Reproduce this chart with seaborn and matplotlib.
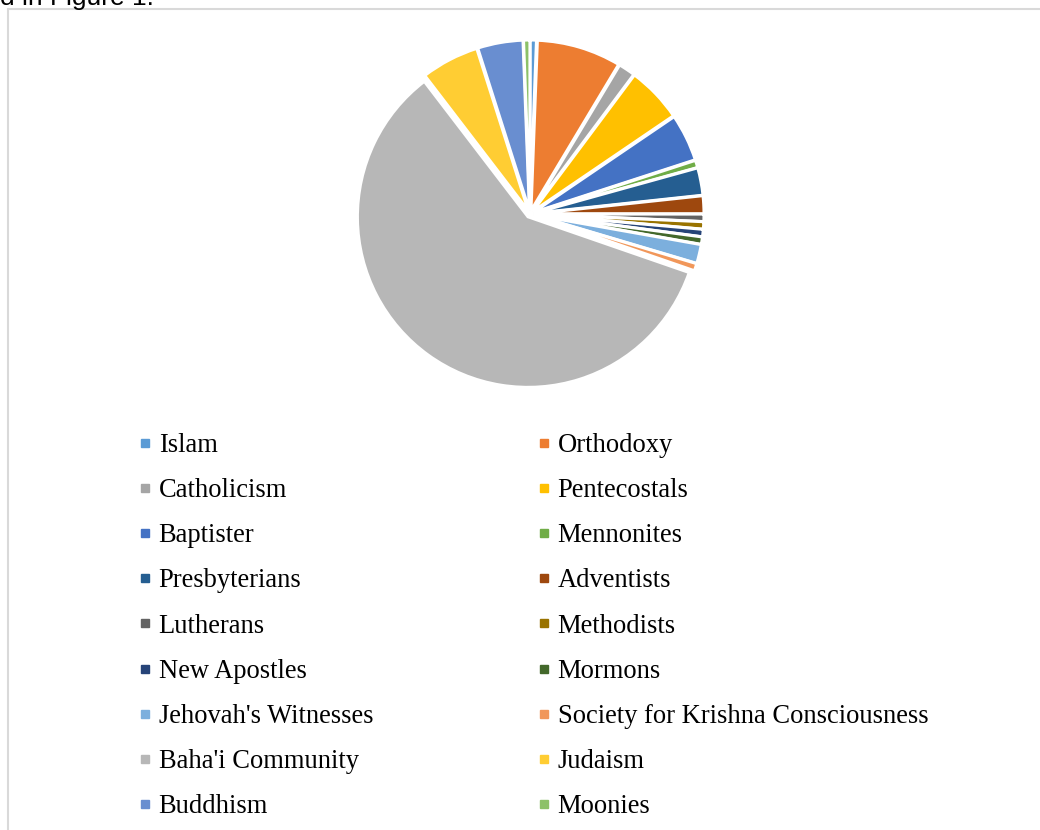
import matplotlib
matplotlib.use("Agg")
import matplotlib.pyplot as plt
from matplotlib.lines import Line2D
import seaborn as sns

sns.set_theme(style="white")
plt.rcParams['font.family'] = ['Liberation Serif', 'DejaVu Serif']
plt.rcParams['text.color'] = 'black'

categories = ["Islam", "Orthodoxy", "Catholicism", "Pentecostals", "Baptister",
              "Mennonites", "Presbyterians", "Adventists", "Lutherans", "Methodists",
              "New Apostles", "Mormons", "Jehovah's Witnesses",
              "Society for Krishna Consciousness", "Baha'i Community", "Judaism",
              "Buddhism", "Moonies"]
values = [0.6, 8.0, 1.6, 5.3, 4.5, 0.7, 2.6, 1.7, 0.7, 0.7, 0.7, 0.7, 1.8, 0.7,
          59.3, 5.5, 4.3, 0.6]
colors = ["#5B9BD5", "#ED7D31", "#A5A5A5", "#FFC000", "#4472C4", "#70AD47",
          "#255E91", "#9E480E", "#636363", "#997300", "#264478", "#43682B",
          "#7CAFDD", "#F1975A", "#B7B7B7", "#FFCD33", "#698ED0", "#8CC168"]
palette = sns.color_palette(colors)

W, H = 1040, 830
fig = plt.figure(figsize=(W / 100, H / 100), dpi=100)

# frame
fig.add_artist(Line2D([8 / W, 1.01], [1 - 9 / H, 1 - 9 / H], color="#D9D9D9", lw=1.5))
fig.add_artist(Line2D([8 / W, 8 / W], [-0.01, 1 - 9 / H], color="#D9D9D9", lw=1.5))
fig.text(0 / W, 1 - 5 / H, "d in Figure 1.", family=['Liberation Sans', 'DejaVu Sans'],
         fontsize=19, ha="left", va="baseline", color="black")

# pie
cx, cy, half = 530, 214, 174
ax = fig.add_axes([(cx - half) / W, 1 - (cy + half) / H, 2 * half / W, 2 * half / H])
explode = [0.02] * len(values)
ax.pie(values, colors=palette, startangle=90, counterclock=False, explode=explode,
       radius=1.0, wedgeprops=dict(edgecolor="white", linewidth=2.2))
ax.set_xlim(-1.02, 1.02)
ax.set_ylim(-1.02, 1.02)
ax.set_aspect("equal")
ax.axis("off")

# legend in two columns, row-wise order
def handles_for(idx):
    hs = [Line2D([0], [0], marker="s", linestyle="none", markersize=6.3,
                 markerfacecolor=palette[i], markeredgecolor=palette[i]) for i in idx]
    return hs, [categories[i] for i in idx]

left_idx = list(range(0, len(categories), 2))
right_idx = list(range(1, len(categories), 2))
for idx, xpx in ((left_idx, 138), (right_idx, 537)):
    hs, ls = handles_for(idx)
    leg = fig.legend(hs, ls, loc="upper left", bbox_to_anchor=(xpx / W, 1 - 433 / H),
                     frameon=False, fontsize=19.1, handlelength=0.5, handletextpad=0.28,
                     labelspacing=0.76, borderpad=0, borderaxespad=0)
    for t in leg.get_texts():
        t.set_color("black")

fig.savefig("out.png", dpi=100)
